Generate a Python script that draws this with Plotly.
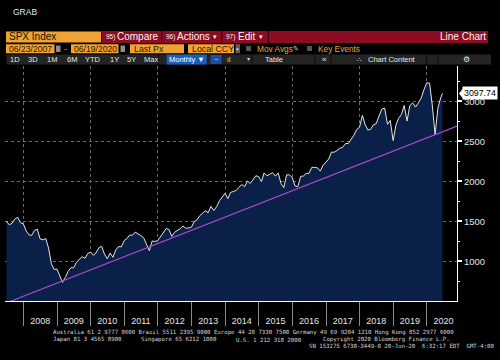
import pandas as pd
import plotly.graph_objects as go

# ---------------- data ----------------
chart_title = "GRAB"
ticker = "SPX Index"
start_label = "06/23/2007"
end_label = "06/19/2020"

spx_2007 = [1503.35, 1455.27, 1473.99, 1526.75, 1549.38, 1481.14, 1468.36]
spx_2008 = [1378.55, 1330.63, 1322.70, 1385.59, 1400.38, 1280.00, 1267.38, 1282.83, 1166.36, 968.75, 896.24, 903.25]
spx_2009 = [825.88, 735.09, 797.87, 872.81, 919.14, 919.32, 987.48, 1020.62, 1057.08, 1036.19, 1095.63, 1115.10]
spx_2010 = [1073.87, 1104.49, 1169.43, 1186.69, 1089.41, 1030.71, 1101.60, 1049.33, 1141.20, 1183.26, 1180.55, 1257.64]
spx_2011 = [1286.12, 1327.22, 1325.83, 1363.61, 1345.20, 1320.64, 1292.28, 1218.89, 1131.42, 1253.30, 1246.96, 1257.60]
spx_2012 = [1312.41, 1365.68, 1408.47, 1397.91, 1310.33, 1362.16, 1379.32, 1406.58, 1440.67, 1412.16, 1416.18, 1426.19]
spx_2013 = [1498.11, 1514.68, 1569.19, 1597.57, 1630.74, 1606.28, 1685.73, 1632.97, 1681.55, 1756.54, 1805.81, 1848.36]
spx_2014 = [1782.59, 1859.45, 1872.34, 1883.95, 1923.57, 1960.23, 1930.67, 2003.37, 1972.29, 2018.05, 2067.56, 2058.90]
spx_2015 = [1994.99, 2104.50, 2067.89, 2085.51, 2107.39, 2063.11, 2103.84, 1972.18, 1920.03, 2079.36, 2080.41, 2043.94]
spx_2016 = [1940.24, 1932.23, 2059.74, 2065.30, 2096.95, 2098.86, 2173.60, 2170.95, 2168.27, 2126.15, 2198.81, 2238.83]
spx_2017 = [2278.87, 2363.64, 2362.72, 2384.20, 2411.80, 2423.41, 2470.30, 2471.65, 2519.36, 2575.26, 2647.58, 2673.61]
spx_2018 = [2823.81, 2713.83, 2640.87, 2648.05, 2705.27, 2718.37, 2816.29, 2901.52, 2913.98, 2711.74, 2760.17, 2506.85]
spx_2019 = [2704.10, 2784.49, 2834.40, 2945.83, 2752.06, 2941.76, 2980.38, 2926.46, 2976.74, 3037.56, 3140.98, 3230.78]
spx_2020 = [3225.52, 2954.22, 2584.59, 2912.43, 3044.31, 3097.74]

spx_values = (spx_2007 + spx_2008 + spx_2009 + spx_2010 + spx_2011 + spx_2012 + spx_2013
              + spx_2014 + spx_2015 + spx_2016 + spx_2017 + spx_2018 + spx_2019 + spx_2020)
spx_dates = list(pd.date_range("2007-06-30", "2020-05-31", freq="ME").strftime("%Y-%m-%d")) + ["2020-06-19"]

trend_dates = ["2007-08-15", "2020-11-24"]
trend_values = [500, 2688]

year_labels = [str(y) for y in range(2008, 2021)]
year_label_dates = [f"{y}-07-01" for y in year_labels]
y_tick_values = [1000, 1500, 2000, 2500, 3000]

x_range = ["2007-06-15", "2020-11-24"]
y_range = [503, 3440]

last_value = spx_values[-1]

# ---------------- styling ----------------
SANS = "Liberation Sans, Arial, sans-serif"
MONO = "DejaVu Sans Mono, Liberation Mono, monospace"
ORANGE = "#f0a232"
RED = "#8c0c22"
GRID = "#6a6a6a"

W, H = 500, 360
L, R, T, B = 5, 457, 66, 301


def fx(x):
    return (x - L) / (R - L)


def fy(y):
    return (B - y) / (B - T)


shapes = []
annotations = []


def rect(x0, y0, x1, y1, color):
    shapes.append(dict(type="rect", xref="paper", yref="paper",
                       x0=fx(x0), x1=fx(x1), y0=fy(y1), y1=fy(y0),
                       fillcolor=color, line_width=0, layer="above"))


def text(x, y, s, size, color, anchor="left", family=SANS):
    annotations.append(dict(xref="paper", yref="paper", x=fx(x), y=fy(y), text=s,
                            showarrow=False, xanchor=anchor, yanchor="middle",
                            font=dict(size=size, color=color, family=family),
                            borderpad=0))


fig = go.Figure()

fig.add_trace(go.Scatter(
    x=spx_dates, y=spx_values, mode="lines",
    line=dict(color="#e4e4e4", width=1),
    fill="tozeroy", fillcolor="#0b2049",
    hoverinfo="skip", showlegend=False))

fig.add_trace(go.Scatter(
    x=trend_dates, y=trend_values, mode="lines",
    line=dict(color="#a84ccc", width=1.2),
    hoverinfo="skip", showlegend=False))

# carrier for the year-label axis
fig.add_trace(go.Scatter(x=[], y=[], xaxis="x2", hoverinfo="skip", showlegend=False))

# ---------------- header ----------------
text(11.5, 11.5, chart_title, 8.5, "#e6e6e6")

# row 1
ROW1 = 37
rect(6, 31.5, 101, 42.5, ORANGE)
rect(101.5, 31, 488, 43, RED)
for sx in (161.7, 221.7, 268.3):
    rect(sx - 0.6, 31, sx + 0.6, 43, "#3a0008")
text(8, ROW1, ticker, 10, "#111111")
text(104.5, ROW1, "95)", 6.5, "#f2f2f2")
text(116, ROW1, "Compare", 10, "#f4f4f4")
text(164.5, ROW1, "96)", 6.5, "#f2f2f2")
text(176, ROW1, "Actions", 10, "#f4f4f4")
text(215, ROW1, "▾", 7, "#f4f4f4", "center")
text(224.5, ROW1, "97)", 6.5, "#f2f2f2")
text(237, ROW1, "Edit", 10, "#f4f4f4")
text(261, ROW1, "▾", 7, "#f4f4f4", "center")
text(487, ROW1, "Line Chart", 10, "#f4f4f4", "right")

# row 2
ROW2 = 48.8
rect(6, 44.2, 54.5, 53.3, ORANGE)
rect(56, 45.5, 60.5, 52, "#8c8c8c")
text(65, ROW2, "-", 9, ORANGE, "center")
rect(71, 44.2, 118.5, 53.3, ORANGE)
rect(120.5, 45.5, 125, 52, "#8c8c8c")
rect(130, 44.2, 184, 53.3, ORANGE)
rect(188, 44.2, 234, 53.3, ORANGE)
rect(235.5, 44.2, 240, 53.3, "#5c5c5c")
rect(246, 46, 251, 51, "#555555")
rect(307, 46, 312, 51, "#555555")
text(8, ROW2, start_label, 8.6, "#2a1600")
text(72.5, ROW2, end_label, 8.6, "#2a1600")
text(132.5, ROW2, "Last Px", 8.8, "#2a1600")
text(190.5, ROW2, "Local CCY", 8.8, "#2a1600")
text(237.7, ROW2, "▾", 5, "#e0e0e0", "center")
text(256, ROW2, "Mov Avgs", 8.3, ORANGE)
text(291.5, ROW2, "✎", 7, "#d0d0d0")
text(316.7, ROW2, "Key Events", 8.3, ORANGE)

# row 3
ROW3 = 59.5
rect(6.5, 54.5, 491, 64.5, "#242424")
for sx in (158.5, 252, 315, 331, 426.7, 438):
    rect(sx - 0.5, 54.5, sx + 0.5, 64.5, "#0c0c0c")
rect(166.7, 54.5, 206.7, 64.5, "#1a5fc0")
rect(210.5, 55, 221.5, 64, "#1d4f9e")
for lab, cx in zip(["1D", "3D", "1M", "6M", "YTD", "1Y", "5Y", "Max"],
                   [15, 33, 52, 72, 93, 114, 131, 151]):
    text(cx, ROW3, lab, 7.5, "#e6e6e6", "center")
text(186.5, ROW3, "Monthly ▼", 7.5, "#ffffff", "center")
text(216, ROW3, "~", 8, "#cfe0ff", "center")
text(229, ROW3, "ıl", 7, "#d8d8d8", "center")
text(248, ROW3, "▾", 6, "#d8d8d8", "center")
text(274, ROW3, "Table", 7.5, "#e6e6e6", "center")
text(324, ROW3, "«", 8, "#e6e6e6", "center")
text(359, ROW3, "∴", 7, "#e6e6e6", "center")
text(366.7, ROW3, "Chart Content", 7.5, "#e6e6e6")
text(466, ROW3, "⚙", 8, "#e6e6e6", "center")

# ---------------- footer ----------------
FOOT = "#d6d6d6"
text(51.7, 332.5, "Australia 61 2 9777 8600 Brazil 5511 2395 9000 Europe 44 20 7330 7500 Germany 49 69 9204 1210 Hong Kong 852 2977 6000",
     5.7, FOOT, family=MONO)
text(51.7, 339.8, "Japan 81 3 4565 8900", 5.7, FOOT, family=MONO)
text(140, 339.8, "Singapore 65 6212 1000", 5.7, FOOT, family=MONO)
text(235, 339.8, "U.S. 1 212 318 2000", 5.7, FOOT, family=MONO)
text(321.7, 339.8, "Copyright 2020 Bloomberg Finance L.P.", 5.7, FOOT, family=MONO)
text(495, 346, "SN 153275 6730-3449-0 20-Jun-20  6:32:17 EDT  GMT-4:00", 5.7, FOOT, "right", family=MONO)

# ---------------- last value tag ----------------
annotations.append(dict(xref="paper", yref="y", x=fx(462), y=last_value,
                        text=f"{last_value:.2f}", showarrow=False,
                        xanchor="left", yanchor="middle", bgcolor="#ffffff",
                        borderpad=1, font=dict(size=8.8, color="#000000", family=SANS)))
shapes.append(dict(type="path", xref="paper", yref="y",
                   xsizemode="pixel", ysizemode="pixel",
                   xanchor=1.0, yanchor=last_value,
                   path="M 2,0 L 6,5 L 6,-5 Z",
                   fillcolor="#ffffff", line_width=0, layer="above"))

fig.update_layout(
    width=W, height=H,
    margin=dict(l=L, r=W - R, t=T, b=H - B, pad=0),
    paper_bgcolor="#000000", plot_bgcolor="#000000",
    showlegend=False,
    font=dict(family=SANS, color="#e6e6e6", size=9),
    shapes=shapes, annotations=annotations,
    xaxis=dict(
        type="date", range=x_range,
        tickmode="linear", tick0="2008-01-01", dtick="M24",
        showticklabels=False,
        ticks="outside", ticklen=24, tickcolor="#8a8a8a", tickwidth=1,
        minor=dict(tickmode="linear", tick0="2008-01-01", dtick="M12",
                   ticks="outside", ticklen=24, tickcolor="#8a8a8a", tickwidth=1,
                   showgrid=False),
        showgrid=True, gridcolor=GRID, griddash="dot", gridwidth=1,
        showline=True, linecolor="#ffffff", linewidth=1,
        zeroline=False,
    ),
    xaxis2=dict(
        type="date", range=x_range, overlaying="x", anchor="y", side="bottom",
        tickmode="array", tickvals=year_label_dates, ticktext=year_labels,
        ticks="outside", ticklen=11, tickcolor="rgba(0,0,0,0)",
        tickfont=dict(size=9, color="#e6e6e6", family=SANS),
        showgrid=False, showline=False, zeroline=False,
    ),
    yaxis=dict(
        range=y_range, side="right",
        tickmode="array", tickvals=y_tick_values,
        ticks="outside", ticklen=4, tickwidth=2, tickcolor="#ffffff",
        minor=dict(tickmode="linear", tick0=500, dtick=250, ticks="outside",
                   ticklen=2, tickcolor="#ffffff", tickwidth=1, showgrid=False),
        tickfont=dict(size=9.5, color="#e6e6e6", family=SANS),
        showgrid=True, gridcolor=GRID, griddash="dot", gridwidth=1,
        showline=True, linecolor="#ffffff", linewidth=1,
        zeroline=False,
    ),
)

fig.write_html("out.html", config={"displayModeBar": False, "staticPlot": True},
               post_script="document.body.style.margin='0';document.body.style.padding='0';")
